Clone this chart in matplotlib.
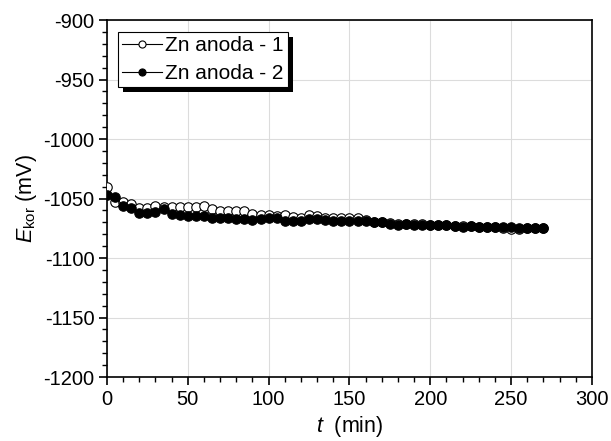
import numpy as np
import matplotlib
matplotlib.use("Agg")
from matplotlib import pyplot as plt
from matplotlib.patches import Rectangle
from matplotlib.ticker import MultipleLocator

plt.rcParams['font.family'] = ['Liberation Sans', 'DejaVu Sans']
plt.rcParams['axes.unicode_minus'] = False
plt.rcParams['mathtext.fontset'] = 'custom'
plt.rcParams['mathtext.it'] = 'Liberation Sans:italic'
plt.rcParams['mathtext.rm'] = 'Liberation Sans'

# time in minutes, both anodes sampled every 5 min
time_min = list(range(0, 275, 5))

anode_1 = [-1040, -1053, -1053, -1054.7, -1058, -1058, -1056, -1057, -1057, -1057,
           -1057, -1057, -1056, -1058.6, -1060.8, -1060.8, -1060.8, -1060.8, -1062.8, -1064.2,
           -1064.2, -1065, -1064.2, -1065.8, -1066.4, -1064.2, -1065, -1066.4, -1066.5, -1066.5,
           -1066, -1066.5, -1068, -1069.5, -1069.5, -1070.5, -1071.5, -1071, -1071.5, -1071.5,
           -1072, -1072.5, -1072.5, -1073, -1073.5, -1073.5, -1074, -1074, -1074, -1074.5,
           -1075.5, -1075.5, -1074.5, -1074.5, -1074.5]

anode_2 = [-1047, -1049, -1056, -1058, -1062, -1062, -1061, -1059, -1063, -1064,
           -1065, -1065, -1065, -1066, -1066, -1066, -1067, -1067, -1068, -1067,
           -1066, -1066, -1069, -1069, -1069, -1067, -1067, -1068, -1068.6, -1069.2,
           -1069.2, -1068.6, -1069.2, -1069.7, -1069.7, -1071.1, -1071.9, -1071.4, -1071.9, -1071.9,
           -1072.5, -1072.5, -1072.5, -1073.3, -1073.9, -1073.3, -1073.9, -1073.9, -1073.9, -1073.9,
           -1073.9, -1074.7, -1074.7, -1074.7, -1074.7]

labels = ["Zn anoda - 1", "Zn anoda - 2"]

fig = plt.figure(figsize=(6.11, 4.41), dpi=100)
ax = fig.add_axes([0.1751, 0.1451, 0.7938, 0.8095])

ax.plot(time_min, anode_1, color="black", lw=0.8, marker="o", ms=6.8,
        mfc="white", mec="black", mew=0.8, label=labels[0], zorder=3)
ax.plot(time_min, anode_2, color="black", lw=0.8, marker="o", ms=6.8,
        mfc="black", mec="black", mew=0.8, label=labels[1], zorder=4)

ax.set_xlim(0, 300)
ax.set_ylim(-1200, -900)
ax.xaxis.set_major_locator(MultipleLocator(50))
ax.xaxis.set_minor_locator(MultipleLocator(10))
ax.yaxis.set_major_locator(MultipleLocator(50))
ax.yaxis.set_minor_locator(MultipleLocator(10))
ax.tick_params(which="major", direction="out", length=6, width=1.2, labelsize=14.5, pad=3)
ax.tick_params(which="minor", direction="out", length=3.5, width=1.0)
ax.grid(True, which="major", color="#dcdcdc", lw=0.8)
ax.set_axisbelow(True)
for side in ax.spines.values():
    side.set_linewidth(1.2)

ax.set_xlabel(r"$t$  (min)", fontsize=15.5, labelpad=4)
ax.set_ylabel(r"$E_{\rm kor}$ (mV)", fontsize=15.5, labelpad=3)

leg = ax.legend(loc="upper left", bbox_to_anchor=(0.01, 0.985), fontsize=15,
                frameon=True, fancybox=False, edgecolor="black", framealpha=1,
                handlelength=1.9, markerscale=0.75,
                handletextpad=0.15, borderpad=0.2, labelspacing=0.45, borderaxespad=0.3)
leg.get_frame().set_linewidth(0.8)
leg.set_zorder(6)

# solid black drop shadow, offset a few pixels down-right
fig.canvas.draw()
bb = leg.get_window_extent()
ax.add_patch(Rectangle((bb.x0 + 5, bb.y0 - 5), bb.width, bb.height, transform=None,
                       facecolor="black", edgecolor="none", zorder=5.5, clip_on=False))

fig.savefig("out.png", dpi=100)
